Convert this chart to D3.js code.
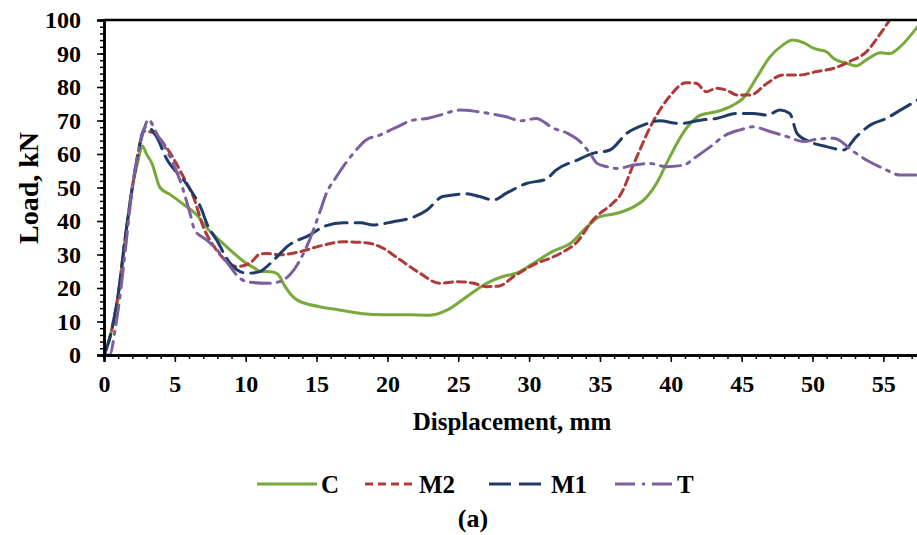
<!DOCTYPE html>
<html><head><meta charset="utf-8">
<script src="https://cdn.jsdelivr.net/npm/d3@7/dist/d3.min.js"></script>
<style>body{margin:0;background:#fff}svg{display:block}text{font-family:"Liberation Serif","Times New Roman",serif;font-weight:bold;fill:#000}</style>
</head><body>
<svg id="chart" width="917" height="535"></svg>
<script>
const xTicks = [0,5,10,15,20,25,30,35,40,45,50,55];
const yTicks = [0,10,20,30,40,50,60,70,80,90,100];

const cX = [0,0.4,1.0,1.5,2.0,2.4,2.7,3.0,3.4,3.95,4.7,5.6,6.5,7.25,8.4,9.4,10.1,10.6,11.0,11.9,12.3,12.7,13.2,13.8,14.3,15.2,16.5,18.1,19.7,21.5,23.0,24.2,25.6,27.0,28.2,29.1,30.3,31.7,32.9,34.1,35.0,36.2,37.4,38.1,39.1,39.7,41.1,42.1,43.2,44.4,45.1,46.1,47.0,47.9,48.6,49.4,50.1,51.0,51.5,52.4,53.1,53.8,54.8,55.5,55.9,57.5];
const cY = [0,5,18,35,50,58,62.4,60,57,50,47.8,45,42,38,33.3,29.5,27.2,26,25,24.8,24,21,18,16,15.3,14.4,13.5,12.4,12,12,11.9,13.4,17.4,21.4,23.5,24.4,27.4,31,33.3,38.3,41.3,42.3,44.3,46.3,52,57.2,67.7,71.6,72.6,74.6,76.6,83.1,89,92.5,94,93.2,91.5,90.5,88.5,87.1,86.3,88.1,90.2,90,91,98.5];

const m2X = [0,0.4,1.0,1.5,2.0,2.4,2.8,3.4,4.4,5.6,6.3,7.0,7.95,9.4,10.3,11.0,11.5,12.4,13.8,15.2,16.9,18.5,19.5,20.9,22.3,23.7,24.9,26.1,27.0,27.9,28.9,30.3,32.2,33.4,34.5,35.9,36.4,37.4,38.8,39.9,41.1,41.8,42.5,43.2,43.9,44.7,45.6,46.8,47.9,49.1,50.3,51.5,52.6,53.8,54.8,55.6];
const m2Y = [0,5,18,35,50,60,66.8,66.5,62,53.2,47.3,38.3,31.3,26.4,27.4,30.1,30.3,29.9,30.8,32.5,33.8,33.5,32.3,28.4,24.4,21.4,21.9,21.4,20.4,20.6,23.4,26.9,30.3,33.8,40.3,45.3,47.5,57.2,70.1,77.1,81.3,81.1,78.6,79.6,79.1,77.6,77.6,81.1,83.6,83.6,84.6,85.6,87.6,90.5,96,101];

const m1X = [0,0.4,1.0,1.5,2.0,2.4,2.7,3.0,3.7,4.4,5.8,6.1,6.9,7.25,7.95,8.9,10.1,11.0,11.2,12.2,12.9,14.5,15.5,16.9,18.1,19.0,20.4,21.8,22.8,23.9,25.6,26.5,27.5,28.4,29.8,31.2,31.9,33.4,34.5,35.7,36.9,38.1,39.2,40.6,42.1,43.2,44.7,45.8,46.8,47.7,48.4,48.9,49.8,51.0,52.2,53.1,54.1,55.2,56.2,57.5];
const m1Y = [0,5,18,35,50,60,66,68.3,65.2,58.7,51.2,49.3,43.3,39.3,34.3,27.4,24.4,24.9,25.4,29.3,32.3,35.8,38.3,39.5,39.5,38.8,39.8,41.1,43.3,47.3,48.1,47.3,46.3,48.3,51.2,52.5,55.2,58.2,60.2,61.2,66.2,68.7,69.9,69.1,70.1,70.6,72.1,72.1,71.6,73.1,72.1,66.2,63.7,62.2,61.2,65.2,68.7,70.6,73.1,76.3];

const tX = [0,0.4,0.8,1.2,1.6,2.0,2.4,2.8,3.13,3.7,4.66,5.36,6.07,6.4,7.25,8.2,8.9,9.36,10.07,11.5,12.4,13.4,14.5,15.2,15.7,16.4,17.6,18.5,19.5,20.5,21.8,22.8,23.7,25.1,26.1,27.2,28.4,29.4,30.5,31.7,32.7,33.6,34.3,34.8,35.5,36.2,37.4,38.5,39.7,40.9,41.8,42.8,43.9,44.9,45.8,47.0,48.2,49.4,50.3,51.5,52.9,53.8,55.0,56.2,57.5];
const tY = [0,0,8,20,35,50,60,67,70.3,66.2,59.2,52.2,42.3,37.3,34.3,30.3,26.4,23.9,21.9,21.4,21.9,25.4,34.3,42.3,48.3,53.2,60.2,64.2,65.7,67.7,70.1,70.6,71.6,73.1,72.8,72.1,71.1,69.9,70.6,67.7,66.2,63.7,60.2,57.2,56.2,55.7,56.7,57.2,56.2,56.7,59.2,62.2,65.7,67.2,68.1,66.7,65.2,63.7,64.4,64.7,60.7,58.2,55.7,53.7,53.7];

const seriesNames = ["C","M2","M1","T"];
const seriesColors = ["#78a93c","#b03a3a","#1f3c68","#7d5fa0"];
const seriesDash = [null,"8,5","22,8","20,7,3,7"];
const seriesX = [cX,m2X,m1X,tX];
const seriesY = [cY,m2Y,m1Y,tY];

const svg = d3.select("#chart");
const x = d3.scaleLinear().domain([0,60]).range([104,954.2]);
const y = d3.scaleLinear().domain([0,100]).range([355,20]);

svg.append("defs").append("clipPath").attr("id","clip")
  .append("rect").attr("x",104).attr("y",20).attr("width",813).attr("height",335);

const line = d3.line().x(d=>x(d[0])).y(d=>y(d[1])).curve(d3.curveMonotoneX);
const g = svg.append("g").attr("clip-path","url(#clip)");
seriesNames.forEach((n,i)=>{
  const pts = seriesX[i].map((v,j)=>[v,seriesY[i][j]]);
  g.append("path").datum(pts).attr("d",line).attr("fill","none")
    .attr("stroke",seriesColors[i]).attr("stroke-width",3)
    .attr("stroke-dasharray",seriesDash[i]).attr("stroke-linecap","round");
});

const xMinor = d3.range(0,58,1);
const yMinor = d3.range(0,101,2);
const xAxMinor = svg.append("g").attr("transform","translate(0,355)")
  .call(d3.axisBottom(x).tickValues(xMinor).tickSize(4).tickFormat(""));
const xAx = svg.append("g").attr("transform","translate(0,355)")
  .call(d3.axisBottom(x).tickValues(xTicks).tickSize(7).tickPadding(13));
const yAxMinor = svg.append("g").attr("transform","translate(104,0)")
  .call(d3.axisLeft(y).tickValues(yMinor).tickSize(4).tickFormat(""));
const yAx = svg.append("g").attr("transform","translate(104,0)")
  .call(d3.axisLeft(y).tickValues(yTicks).tickSize(7).tickPadding(16));
[xAxMinor,xAx,yAxMinor,yAx].forEach(a=>{
  a.selectAll("path").attr("stroke","#000").attr("stroke-width",2.5);
  a.selectAll("line").attr("stroke","#000").attr("stroke-width",1.5);
  a.selectAll("text").style("font-size","24px").style("font-family","'Liberation Serif',serif").style("font-weight","bold");
});
svg.append("line").attr("x1",104).attr("x2",917).attr("y1",20).attr("y2",20).attr("stroke","#000").attr("stroke-width",2.5);

svg.append("text").attr("transform","translate(38,188) rotate(-90)").attr("text-anchor","middle")
  .style("font-size","28px").text("Load, kN");
svg.append("text").attr("x",512).attr("y",430).attr("text-anchor","middle")
  .style("font-size","25px").text("Displacement, mm");

const legX = [257,365,489,615];
const legW = [60,50,58,58];
seriesNames.forEach((n,i)=>{
  svg.append("line").attr("x1",legX[i]).attr("x2",legX[i]+legW[i]).attr("y1",484).attr("y2",484)
    .attr("stroke",seriesColors[i]).attr("stroke-width",3).attr("stroke-dasharray",seriesDash[i]);
  svg.append("text").attr("x",legX[i]+legW[i]+4).attr("y",493).style("font-size","25px").text(n);
});
svg.append("text").attr("x",473).attr("y",527).attr("text-anchor","middle").style("font-size","26px").text("(a)");
</script>
</body></html>
